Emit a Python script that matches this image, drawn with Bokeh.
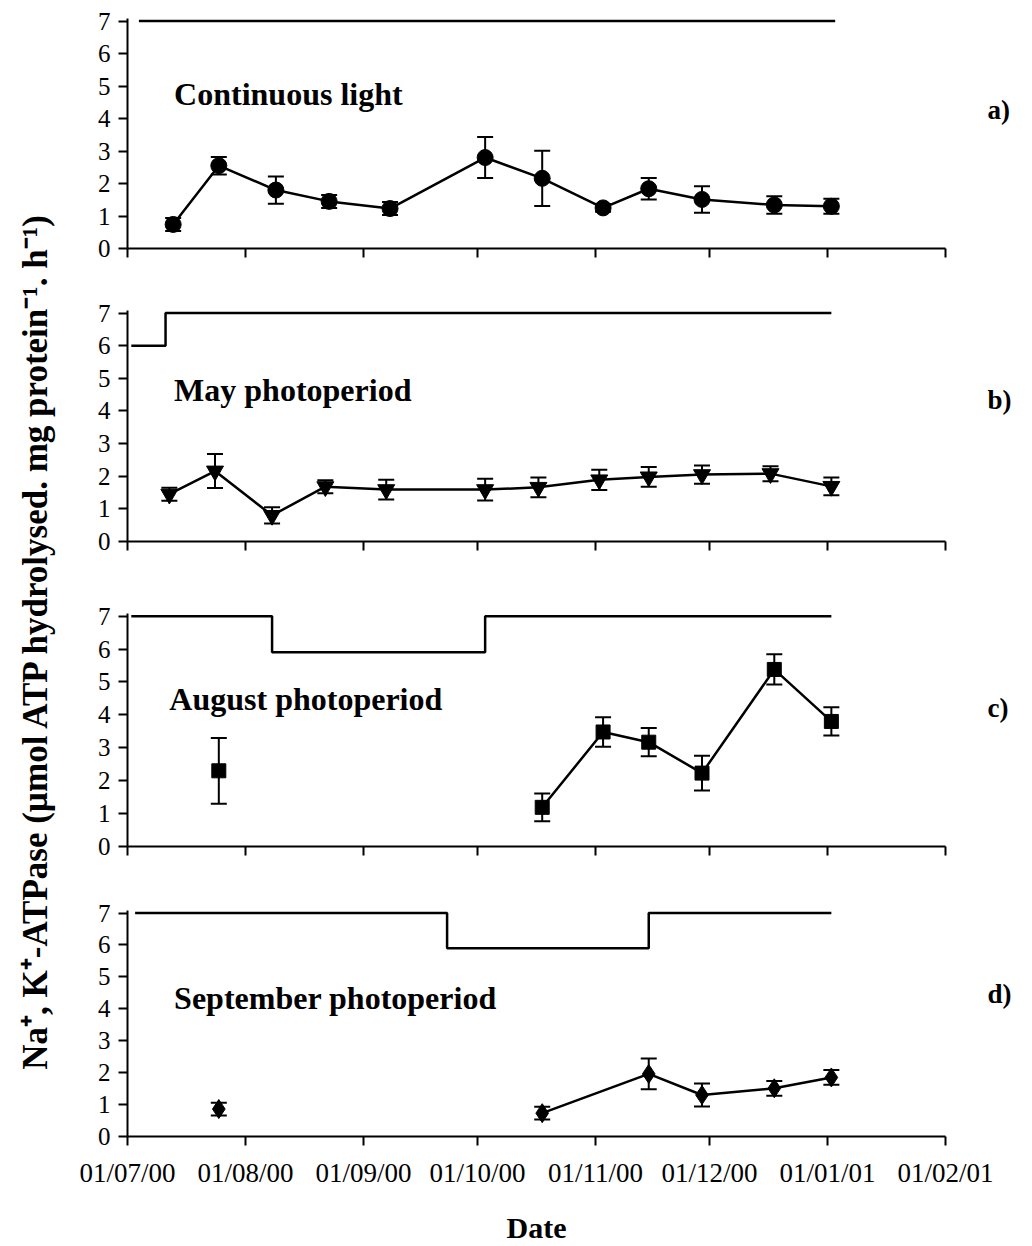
import math
import pandas as pd
from bokeh.plotting import figure
from bokeh.models import (Range1d, FixedTicker, DatetimeTickFormatter, Whisker,
                          ColumnDataSource, TeeHead, LinearAxis, CustomLabelingPolicy)
from bokeh.layouts import row, column
from bokeh.embed import file_html
from bokeh.resources import INLINE
from bokeh.core.properties import value

# ---- data -------------------------------------------------------------
month_ticks = ["2000-07-01", "2000-08-01", "2000-09-01", "2000-10-01",
               "2000-11-01", "2000-12-01", "2001-01-01", "2001-02-01"]

# a) continuous light
dates_a = ["2000-07-13", "2000-07-25", "2000-08-09", "2000-08-23", "2000-09-08",
           "2000-10-03", "2000-10-18", "2000-11-03", "2000-11-15", "2000-11-29",
           "2000-12-18", "2001-01-02"]
atpase_a = [0.74, 2.55, 1.80, 1.45, 1.23, 2.80, 2.16, 1.25, 1.84, 1.51, 1.34, 1.30]
err_a = [0.20, 0.27, 0.42, 0.20, 0.20, 0.63, 0.85, 0.12, 0.33, 0.41, 0.27, 0.23]
light_dates_a = ["2000-07-04", "2001-01-03"]
light_a = [7, 7]

# b) May photoperiod
dates_b = ["2000-07-12", "2000-07-24", "2000-08-08", "2000-08-22", "2000-09-07",
           "2000-10-03", "2000-10-17", "2000-11-02", "2000-11-15", "2000-11-29",
           "2000-12-17", "2001-01-02"]
atpase_b = [1.45, 2.16, 0.80, 1.68, 1.59, 1.59, 1.66, 1.89, 1.98, 2.05, 2.08, 1.69]
err_b = [0.20, 0.52, 0.25, 0.20, 0.30, 0.33, 0.30, 0.31, 0.30, 0.28, 0.23, 0.27]
light_dates_b = ["2000-07-02", "2000-07-11", "2001-01-02"]
light_b = [6, 7, 7]

# c) August photoperiod
dates_c = ["2000-07-25", "2000-10-18", "2000-11-03", "2000-11-15", "2000-11-29",
           "2000-12-18", "2001-01-02"]
atpase_c = [2.30, 1.19, 3.48, 3.17, 2.23, 5.38, 3.80]
err_c = [1.00, 0.42, 0.45, 0.43, 0.53, 0.46, 0.43]
light_dates_c = ["2000-07-02", "2000-08-08", "2000-10-03", "2001-01-02"]
light_c = [7, 5.9, 7, 7]

# d) September photoperiod
dates_d = ["2000-07-25", "2000-10-18", "2000-11-15", "2000-11-29", "2000-12-18",
           "2001-01-02"]
atpase_d = [0.86, 0.73, 1.96, 1.30, 1.51, 1.85]
err_d = [0.20, 0.20, 0.48, 0.36, 0.23, 0.23]
light_dates_d = ["2000-07-03", "2000-09-23", "2000-11-15", "2001-01-02"]
light_d = [7, 5.9, 7, 7]

titles = ["Continuous light", "May photoperiod", "August photoperiod",
          "September photoperiod"]
panel_tags = ["a)", "b)", "c)", "d)"]

# ---- styling -----------------------------------------------------------
SERIF = "Liberation Serif"
INK = "#000000"
X0 = pd.Timestamp("2000-07-01")
X1 = pd.Timestamp("2001-02-01")
Y_TOP = 7.08
TICKS_MS = [pd.Timestamp(t).value / 1e6 for t in month_ticks]


def to_dt(seq):
    return list(pd.to_datetime(seq))


def make_panel(height, top, bottom, dates, vals, errs, l_dates, l_vals,
               marker, msize, title, title_x, title_y, joined_from, bottom_axis,
               tag, tag_y):
    p = figure(width=972, height=height, x_axis_type="datetime",
               x_range=Range1d(X0, X1), y_range=Range1d(0, Y_TOP),
               output_backend="svg", toolbar_location=None,
               min_border_left=67, min_border_right=87,
               min_border_top=top, min_border_bottom=bottom)
    p.outline_line_color = None
    p.grid.visible = False
    p.background_fill_color = "white"
    p.border_fill_color = "white"

    # y axis
    p.yaxis.ticker = FixedTicker(ticks=list(range(0, 8)))
    p.yaxis.minor_tick_line_color = None
    p.yaxis.major_tick_in = 0
    p.yaxis.major_tick_out = 9
    p.yaxis.axis_line_width = 2
    p.yaxis.major_tick_line_width = 2
    p.yaxis.axis_line_color = INK
    p.yaxis.major_tick_line_color = INK
    p.yaxis.major_label_text_font = SERIF
    p.yaxis.major_label_text_font_size = "25px"
    p.yaxis.major_label_text_color = INK
    p.yaxis.major_label_standoff = 8

    # panel tag, carried by a bare axis on the right-hand side
    tag_axis = LinearAxis(ticker=FixedTicker(ticks=[tag_y]),
                          major_label_overrides={tag_y: tag},
                          axis_line_color=None, major_tick_line_color=None,
                          minor_tick_line_color=None,
                          major_tick_in=0, major_tick_out=0,
                          major_label_standoff=42,
                          major_label_text_font=SERIF,
                          major_label_text_font_style="bold",
                          major_label_text_font_size="27px",
                          major_label_text_color=INK)
    p.add_layout(tag_axis, "right")

    # x axis
    p.xaxis.ticker = FixedTicker(ticks=TICKS_MS)
    p.xaxis.minor_tick_line_color = None
    p.xaxis.major_tick_in = 0
    p.xaxis.major_tick_out = 9
    p.xaxis.axis_line_width = 2
    p.xaxis.major_tick_line_width = 2
    p.xaxis.axis_line_color = INK
    p.xaxis.major_tick_line_color = INK
    fmt = "%d/%m/%y"
    p.xaxis.formatter = DatetimeTickFormatter(
        milliseconds=fmt, seconds=fmt, minsec=fmt, minutes=fmt, hourmin=fmt,
        hours=fmt, days=fmt, months=fmt, years=fmt)
    if bottom_axis:
        p.xaxis.major_label_text_font = SERIF
        p.xaxis.major_label_text_font_size = "27px"
        p.xaxis.major_label_text_color = INK
        p.xaxis.major_label_standoff = 12
        p.xaxis.axis_label = "Date"
        p.xaxis.axis_label_text_font = SERIF
        p.xaxis.axis_label_text_font_style = "bold"
        p.xaxis.axis_label_text_font_size = "30px"
        p.xaxis.axis_label_text_color = INK
        p.xaxis.axis_label_standoff = 20
    else:
        # tick marks only, the dates are printed under the last panel
        p.xaxis.major_label_policy = CustomLabelingPolicy(code="return new Set()")
        p.xaxis.major_label_text_font_size = "0px"
        p.xaxis.major_label_standoff = 0

    # photoperiod indicator
    p.step(to_dt(l_dates), l_vals, mode="after", line_color=INK, line_width=2.5)

    x = to_dt(dates)
    src = ColumnDataSource(dict(
        x=x, y=vals,
        upper=[v + e for v, e in zip(vals, errs)],
        lower=[v - e for v, e in zip(vals, errs)]))

    p.line(x[joined_from:], vals[joined_from:], line_color=INK, line_width=2.5)
    whisk = Whisker(source=src, base="x", upper="upper", lower="lower",
                    dimension="height", line_color=INK, line_width=2,
                    upper_head=TeeHead(size=16, line_color=INK, line_width=2),
                    lower_head=TeeHead(size=16, line_color=INK, line_width=2))
    p.add_layout(whisk)
    p.scatter("x", "y", source=src, marker=marker, size=msize,
              fill_color=INK, line_color=INK)

    p.text(x=[pd.Timestamp(title_x)], y=[title_y], text=[title],
           text_font=value(SERIF), text_font_style="bold",
           text_font_size="32px", text_color=INK,
           text_align="left", text_baseline="alphabetic")
    return p


pa = make_panel(282, 18, 34, dates_a, atpase_a, err_a, light_dates_a, light_a,
                "circle", 16, titles[0], "2000-07-13 06:00", 4.76, 0, False,
                panel_tags[0], 4.25)
pb = make_panel(295, 28, 36, dates_b, atpase_b, err_b, light_dates_b, light_b,
                "inverted_triangle", 17, titles[1], "2000-07-13 06:00", 4.65, 0, False,
                panel_tags[1], 4.35)
pc = make_panel(299, 36, 30, dates_c, atpase_c, err_c, light_dates_c, light_c,
                "square", 14, titles[2], "2000-07-12 00:00", 4.49, 1, False,
                panel_tags[2], 4.22)
pd_ = make_panel(370, 34, 108, dates_d, atpase_d, err_d, light_dates_d, light_d,
                 "diamond", 19, titles[3], "2000-07-13 06:00", 4.35, 1, True,
                 panel_tags[3], 4.45)

# shared y-axis title in a narrow strip on the left
left = figure(width=60, height=1246, x_range=Range1d(0, 60),
              y_range=Range1d(1246, 0), x_axis_type=None, y_axis_type=None,
              output_backend="svg", toolbar_location=None,
              min_border_left=0, min_border_right=0,
              min_border_top=0, min_border_bottom=0)
left.outline_line_color = None
left.grid.visible = False
left.border_fill_color = "white"
left.text(x=[35], y=[640],
          text=["Na\u207a, K\u207a-ATPase (\u00b5mol ATP hydrolysed. mg protein\u207b\u00b9. h\u207b\u00b9)"],
          angle=math.pi / 2, text_font=value(SERIF), text_font_style="bold",
          text_font_size="35px", text_color=INK,
          text_align="center", text_baseline="middle")

layout = row(left, column(pa, pb, pc, pd_, spacing=0), spacing=0)

open("out.html", "w").write(file_html(layout, INLINE))
